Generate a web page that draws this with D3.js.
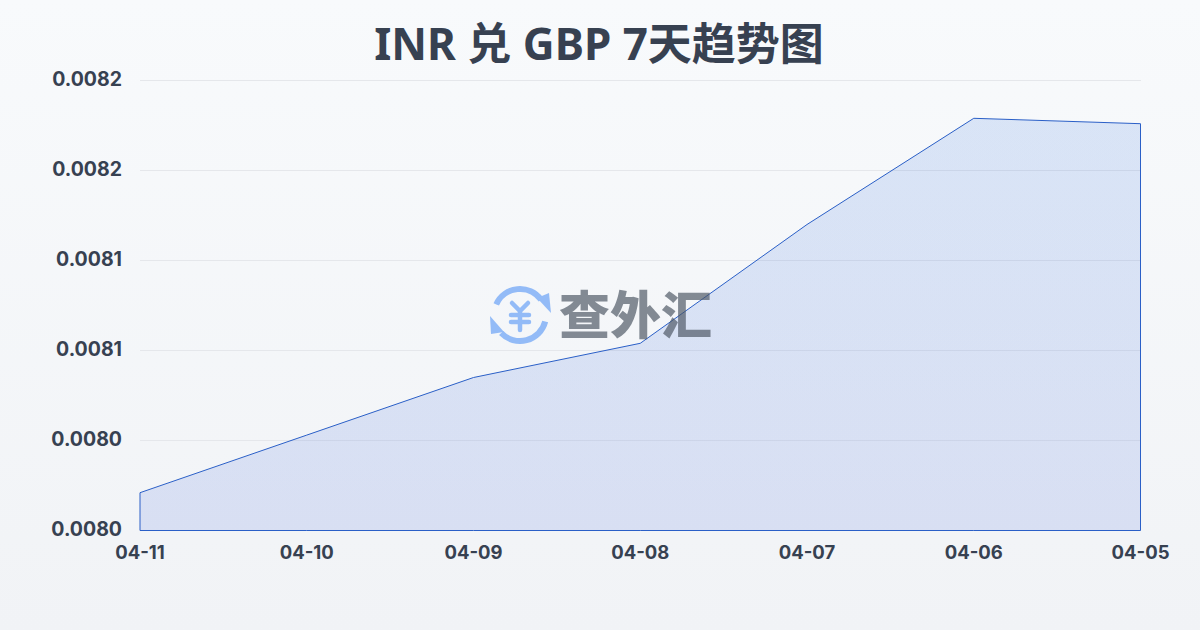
<!DOCTYPE html>
<html><head><meta charset="utf-8">
<script src="https://cdn.jsdelivr.net/npm/d3@7"></script>
<style>html,body{margin:0;padding:0}svg{display:block}</style></head>
<body><svg id="c" width="1200" height="630"></svg>
<script>
const titleText = "INR 兑 GBP 7天趋势图";
const dates = ["04-11","04-10","04-09","04-08","04-07","04-06","04-05"];
const rates = [0.007971,0.008003,0.008035,0.008054,0.008120,0.008179,0.008176];
const yTicks = [0.00795,0.0080,0.00805,0.0081,0.00815,0.0082];
const yTickLabels = ["0.0080","0.0080","0.0081","0.0081","0.0082","0.0082"];
const watermark = "查外汇";

const svg = d3.select("#c");
const defs = svg.append("defs");
const bg = defs.append("linearGradient").attr("id","bg").attr("x1",0).attr("y1",0).attr("x2",0).attr("y2",1);
bg.append("stop").attr("offset","0%").attr("stop-color","#f8fafc");
bg.append("stop").attr("offset","100%").attr("stop-color","#f1f3f6");
const ag = defs.append("linearGradient").attr("id","ag").attr("gradientUnits","userSpaceOnUse").attr("x1",0).attr("y1",118).attr("x2",0).attr("y2",530);
ag.append("stop").attr("offset","0%").attr("stop-color","#2367db").attr("stop-opacity",0.14);
ag.append("stop").attr("offset","100%").attr("stop-color","#4669dc").attr("stop-opacity",0.15);
svg.append("rect").attr("width",1200).attr("height",630).attr("fill","url(#bg)");

const x = d3.scalePoint().domain(dates).range([140,1140.5]);
const y = d3.scaleLinear().domain([0.00795,0.0082]).range([530.5,80.5]);

const titleFont = "'Noto Sans','Noto Sans CJK SC',sans-serif";
const font = "Inter,'Noto Sans CJK SC',sans-serif";
svg.append("text").attr("x",599).attr("y",60).attr("text-anchor","middle")
  .attr("font-family",titleFont).attr("font-weight",700).attr("font-size",44).attr("fill","#374151").text(titleText);

svg.append("g").selectAll("line").data(yTicks).join("line")
  .attr("x1",140).attr("x2",1141).attr("y1",d=>y(d)).attr("y2",d=>y(d))
  .attr("stroke","#e5e7eb").attr("stroke-width",1);

const pts = dates.map((d,i)=>[x(d),rates[i]]);
const area = d3.area().x(d=>d[0]).y0(y(0.00795)).y1(d=>y(d[1]));
svg.append("path").attr("d",area(pts)).attr("fill","url(#ag)")
  .attr("stroke","#2a5fc7").attr("stroke-width",1);

// watermark over the chart, translucent
const wm = svg.append("g");
const ic = wm.append("g").attr("transform","translate(520,315)").attr("fill","none").attr("stroke","#93bbf7").attr("stroke-width",6).attr("stroke-linecap","round");
const arc = d3.arc().innerRadius(26).outerRadius(26);
ic.append("path").attr("d",arc({startAngle:-1.15,endAngle:0.95}));
ic.append("path").attr("d",arc({startAngle:1.82,endAngle:3.95}));
ic.append("path").attr("d","M-8,-12L0,-4L8,-12M-9,0H9M-9,7H9M0,-4V15").attr("stroke-width",4.5);
ic.append("path").attr("d","M31,-2L17,-17L29,-22Z").attr("fill","#93bbf7").attr("stroke","none");
ic.append("path").attr("d","M-30,1L-16,17L-29,19Z").attr("fill","#93bbf7").attr("stroke","none");
wm.append("text").attr("x",559).attr("y",334).attr("font-family","'Noto Sans CJK SC'").attr("font-weight",900)
  .attr("font-size",51).attr("fill","#4b5563").attr("fill-opacity",0.68).text(watermark);

svg.append("g").selectAll("text").data(yTicks).join("text")
  .attr("x",122).attr("y",d=>y(d)+5.5).attr("text-anchor","end")
  .attr("font-family",font).attr("font-weight",700).attr("font-size",19.5).attr("fill","#374151")
  .text((d,i)=>yTickLabels[i]);
svg.append("g").selectAll("text").data(dates).join("text")
  .attr("x",d=>x(d)).attr("y",559).attr("text-anchor","middle")
  .attr("font-family",font).attr("font-weight",700).attr("font-size",18.5).attr("fill","#374151")
  .text(d=>d);
</script></body></html>
